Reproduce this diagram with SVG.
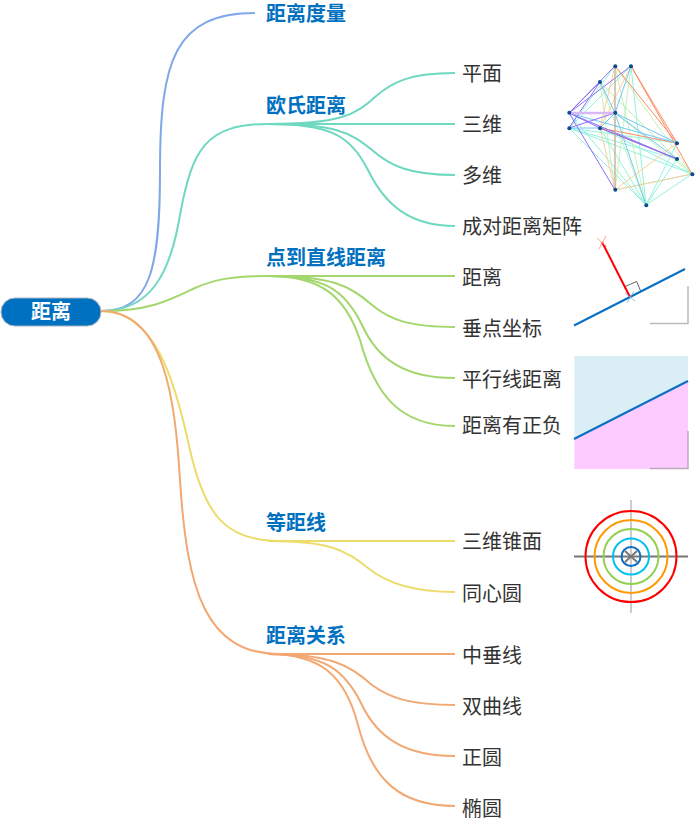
<svg xmlns="http://www.w3.org/2000/svg" width="698" height="822" viewBox="0 0 698 822">
<style>
text{font-family:"Noto Sans CJK SC","Noto Sans",sans-serif;font-size:20px}
.b{font-weight:700;fill:#0070c0}
.l{fill:#333}
.c{fill:none;stroke-width:2}
.e{stroke-width:1;fill:none}
.dot{fill:#0b4a8f}
</style>
<g id="connectors">
<path class="c" stroke="#7fa8e8" d="M101 311C150 311 160 270 160 170C160 60 175 13 255 13"/>
<g stroke="#6fd8c0">
<path class="c" d="M101 311C150 311 170 275 180 215C192 150 205 124 268 124"/>
<path class="c" d="M268 124C340 124 355 115 375 97C392 82 410 73 455 73"/>
<path class="c" d="M268 124H455"/>
<path class="c" d="M268 124C335 124 350 132 372 150C390 166 410 175 455 175"/>
<path class="c" d="M268 124C330 124 350 135 368 170C385 205 410 226 455 226"/>
</g>
<g stroke="#a3d76e">
<path class="c" d="M101 311C150 311 170 300 195 288C215 279 235 276 268 276"/>
<path class="c" d="M268 276H455"/>
<path class="c" d="M268 276C330 276 350 285 372 305C390 320 410 327 455 327"/>
<path class="c" d="M268 276C325 276 345 290 362 325C378 360 405 378 455 378"/>
<path class="c" d="M268 276C320 276 345 295 360 340C375 395 400 426 455 426"/>
</g>
<g stroke="#ecdc6a">
<path class="c" d="M101 311C155 311 175 380 190 450C205 515 225 541 280 541"/>
<path class="c" d="M268 541H455"/>
<path class="c" d="M268 541C330 541 345 550 368 568C385 582 410 592 455 592"/>
</g>
<g stroke="#f2a873">
<path class="c" d="M101 311C165 311 175 400 180 480C187 590 205 654 280 654"/>
<path class="c" d="M268 654H455"/>
<path class="c" d="M268 654C330 654 350 665 372 685C390 698 410 705 455 705"/>
<path class="c" d="M268 654C325 654 345 670 362 705C378 738 405 756 455 756"/>
<path class="c" d="M268 654C320 654 345 675 358 725C372 780 400 806 455 806"/>
</g>
</g>
<g id="root"><rect x="1" y="298" width="100" height="28" rx="14" fill="#0070c0" stroke="#a8b4c0"/><text x="31" y="319" fill="#fff" style="font-weight:700">距离</text></g>
<g id="n1"><text class="b" x="266" y="21">距离度量</text></g>
<g id="n2"><text class="b" x="266" y="113">欧氏距离</text></g>
<g id="n3"><text class="b" x="266" y="265">点到直线距离</text></g>
<g id="n4"><text class="b" x="266" y="530">等距线</text></g>
<g id="n5"><text class="b" x="266" y="643">距离关系</text></g>
<g id="leaf1"><text class="l" x="462" y="81">平面</text></g>
<g id="leaf2"><text class="l" x="462" y="132">三维</text></g>
<g id="leaf3"><text class="l" x="462" y="183">多维</text></g>
<g id="leaf4"><text class="l" x="462" y="234">成对距离矩阵</text></g>
<g id="leaf5"><text class="l" x="462" y="285">距离</text></g>
<g id="leaf6"><text class="l" x="462" y="336">垂点坐标</text></g>
<g id="leaf7"><text class="l" x="462" y="387">平行线距离</text></g>
<g id="leaf8"><text class="l" x="462" y="433">距离有正负</text></g>
<g id="leaf9"><text class="l" x="462" y="549">三维锥面</text></g>
<g id="leaf10"><text class="l" x="462" y="601">同心圆</text></g>
<g id="leaf11"><text class="l" x="462" y="663">中垂线</text></g>
<g id="leaf12"><text class="l" x="462" y="714">双曲线</text></g>
<g id="leaf13"><text class="l" x="462" y="765">正圆</text></g>
<g id="leaf14"><text class="l" x="462" y="816">椭圆</text></g>
<g id="fig1">
<g class="e" stroke="#7ff0d8" opacity=".85">
<path class="e" d="M569 128L646 205M569 128L677 143M569 128L677 159M569 128L692 174M600 128L646 205M600 128L692 174M615 190L692 174M646 205L692 174M646 205L677 159M646 205L677 143M569 113L646 205M631 66L646 205M569 128L631 66M569 128L615 66"/>
</g>
<g class="e" stroke="#b8f0b0" opacity=".85">
<path class="e" d="M600 82L646 205M615 66L646 205M600 82L615 190M600 82L677 159M615 66L692 174M631 66L615 190M600 82L692 174M615 113L692 174"/>
</g>
<g class="e" stroke="#ffcf98">
<path class="e" d="M615 66L615 190M631 66L600 128M615 190L677 143M615 190L692 174M600 128L615 190M615 66L600 128"/>
</g>
<g class="e" stroke="#ff8a60">
<path class="e" d="M615 66L677 143M631 66L677 143M631 66L692 174M600 128L677 143M600 128L677 159"/>
</g>
<g class="e" stroke="#70c8f8">
<path class="e" d="M600 82L615 113M615 113L646 205M615 113L677 143M615 113L677 159M569 113L677 143M569 128L600 128M631 66L615 113M600 128L615 113"/>
</g>
<g class="e" stroke="#8a70f8">
<path class="e" d="M569 113L600 82M569 113L615 66M569 113L631 66M569 113L600 128M569 113L677 159M569 113L615 190M569 128L615 113M569 128L600 82M600 128L677 159"/>
</g>
<path d="M569 113H615" stroke="#d9b8fa" stroke-width="2.5"/>
<path d="M615 66V190" stroke="#b0a8a0" stroke-width="1"/>
<g class="dot">
<circle cx="615.3" cy="66.3" r="2"/><circle cx="631" cy="66.3" r="2"/><circle cx="600" cy="82" r="2"/><circle cx="569.3" cy="112.7" r="2"/><circle cx="615.3" cy="112.7" r="2"/><circle cx="569.3" cy="128.3" r="2"/><circle cx="600" cy="128.3" r="2"/><circle cx="677" cy="143.3" r="2"/><circle cx="677" cy="159" r="2"/><circle cx="692.3" cy="174.3" r="2"/><circle cx="615.3" cy="189.7" r="2"/><circle cx="646.3" cy="205.3" r="2"/>
</g>
</g>
<g id="fig2" fill="none">
<path d="M650 323.5H688V286" stroke="#bbb" stroke-width="1.5"/>
<path d="M625 286.5L636.7 281.5L641 292" stroke="#666"/>
<path d="M574 325.5L685 269" stroke="#0a6fc2" stroke-width="2"/>
<path d="M602 242L630 297" stroke="#f00" stroke-width="2"/>
<path d="M597 238L607 247M606 236L599 249" stroke="#f88" stroke-width=".8"/>
<path d="M625 293L635 301M634 291L627 303" stroke="#6ab8f0" stroke-width=".8"/>
</g>
<g id="fig3">
<rect x="574.5" y="356" width="113.5" height="113" fill="#daeef5"/>
<path d="M574.5 439L688 381V469H574.5Z" fill="#fdcbff"/>
<path d="M574 439L688 381" stroke="#0a6fc2" stroke-width="2" fill="none"/>
<path d="M650 468.5H688V431" stroke="#bda8c0" stroke-width="1.5" fill="none"/>
</g>
<g id="fig4" fill="none" stroke-width="2">
<path d="M631 500V613" stroke="#bbb" stroke-width="1.5"/>
<path d="M574 556.5H688" stroke="#777"/>
<path d="M625 551L637 562M637 551L625 562" stroke="#777"/>
<circle cx="631" cy="556.5" r="45.5" stroke="#f00"/>
<circle cx="631" cy="556.5" r="36.5" stroke="#f90"/>
<circle cx="631" cy="556.5" r="27.5" stroke="#92d050"/>
<circle cx="631" cy="556.5" r="18" stroke="#00c0f0"/>
<circle cx="631" cy="556.5" r="9.5" stroke="#0a6fc2"/>
</g>
</svg>
